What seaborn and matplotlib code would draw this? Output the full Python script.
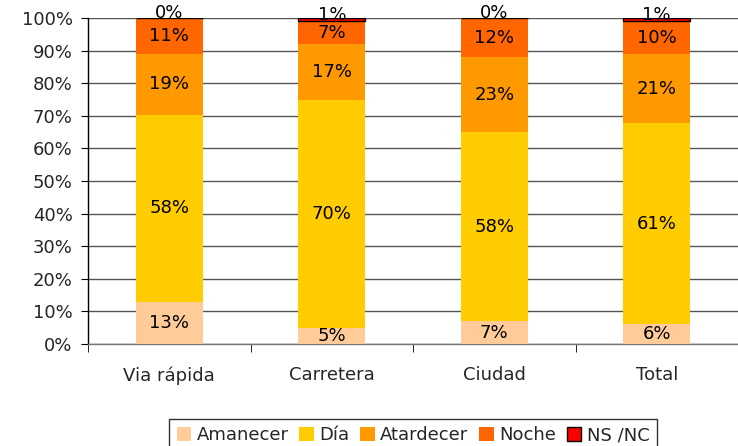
import numpy as np
import pandas as pd
import matplotlib
matplotlib.use('Agg')
import matplotlib.pyplot as plt
from matplotlib.patches import Patch
import seaborn as sns

# data (percent labels per segment)
categories = ['Via rápida', 'Carretera', 'Ciudad', 'Total']
series = ['Amanecer', 'Día', 'Atardecer', 'Noche', 'NS /NC']
amanecer = [13, 5, 7, 6]
dia = [58, 70, 58, 61]
atardecer = [19, 17, 23, 21]
noche = [11, 7, 12, 10]
nsnc = [0, 1, 0, 1]
colors = ['#FFCC99', '#FFCC00', '#FF9900', '#FF6600', '#FF0000']

sns.set_style('white')
plt.rcParams['font.family'] = ['DejaVu Sans']

raw = np.array([amanecer, dia, atardecer, noche, nsnc], dtype=float)
pct = raw / raw.sum(axis=0) * 100  # 100% stacked
tops = pct.cumsum(axis=0)
bottoms = tops - pct

fig = plt.figure(figsize=(7.38, 4.46), dpi=100)
ax = fig.add_axes([88 / 738, 1 - 344 / 446, 1 - 88 / 738, 326 / 446])

for i in range(len(series)):
    df = pd.DataFrame({'cat': categories, 'val': pct[i]})
    is_ns = i == 4
    sns.barplot(data=df, x='cat', y='val', color=colors[i], saturation=1,
                width=0.41, bottom=bottoms[i],
                edgecolor='black' if is_ns else 'none',
                linewidth=1 if is_ns else 0, ax=ax, zorder=3)

# labels centered in each segment (NS/NC ones sit a bit above the bar top)
for i in range(len(series)):
    for j in range(len(categories)):
        mid = bottoms[i, j] + pct[i, j] / 2
        if i == 4:
            mid += 1.5
        ax.text(j, mid, f'{int(raw[i, j])}%', ha='center', va='center',
                fontsize=13, color='black', zorder=5, clip_on=False)

ax.set_xlim(-0.5, 3.5)
ax.set_ylim(0, 100)
ax.set_yticks(np.arange(0, 101, 10))
ax.set_yticklabels([f'{v}%' for v in range(0, 101, 10)], fontsize=13)
ax.set_xticks(range(4))
ax.set_xticklabels(categories, fontsize=13)
ax.set_xticks([-0.5, 0.5, 1.5, 2.5, 3.5], minor=True)
ax.tick_params(axis='x', which='major', length=0, pad=16)
ax.tick_params(axis='x', which='minor', length=6, direction='out', color='black', bottom=True)
ax.tick_params(axis='y', length=5, direction='out', color='black', left=True, pad=6)
ax.set_xlabel('')
ax.set_ylabel('')

ax.yaxis.grid(True, color='#555555', linewidth=1, zorder=0)
ax.set_axisbelow(True)
for s in ['top', 'right']:
    ax.spines[s].set_visible(False)
ax.spines['left'].set_color('black')
ax.spines['left'].set_linewidth(1)
ax.spines['bottom'].set_color('#777777')
ax.spines['bottom'].set_linewidth(1)

handles = [Patch(facecolor=c, edgecolor='black' if k == 4 else 'none', linewidth=1)
           for k, c in enumerate(colors)]
leg = fig.legend(handles, series, loc='upper center', ncol=5,
                 bbox_to_anchor=(413 / 738, 1 - 410 / 446), fontsize=13,
                 frameon=True, fancybox=False, handlelength=0.8, handleheight=0.8,
                 handletextpad=0.3, columnspacing=0.6, borderpad=0.4)
leg.get_frame().set_edgecolor('black')
leg.get_frame().set_linewidth(1)

fig.savefig('out.png', dpi=100)
